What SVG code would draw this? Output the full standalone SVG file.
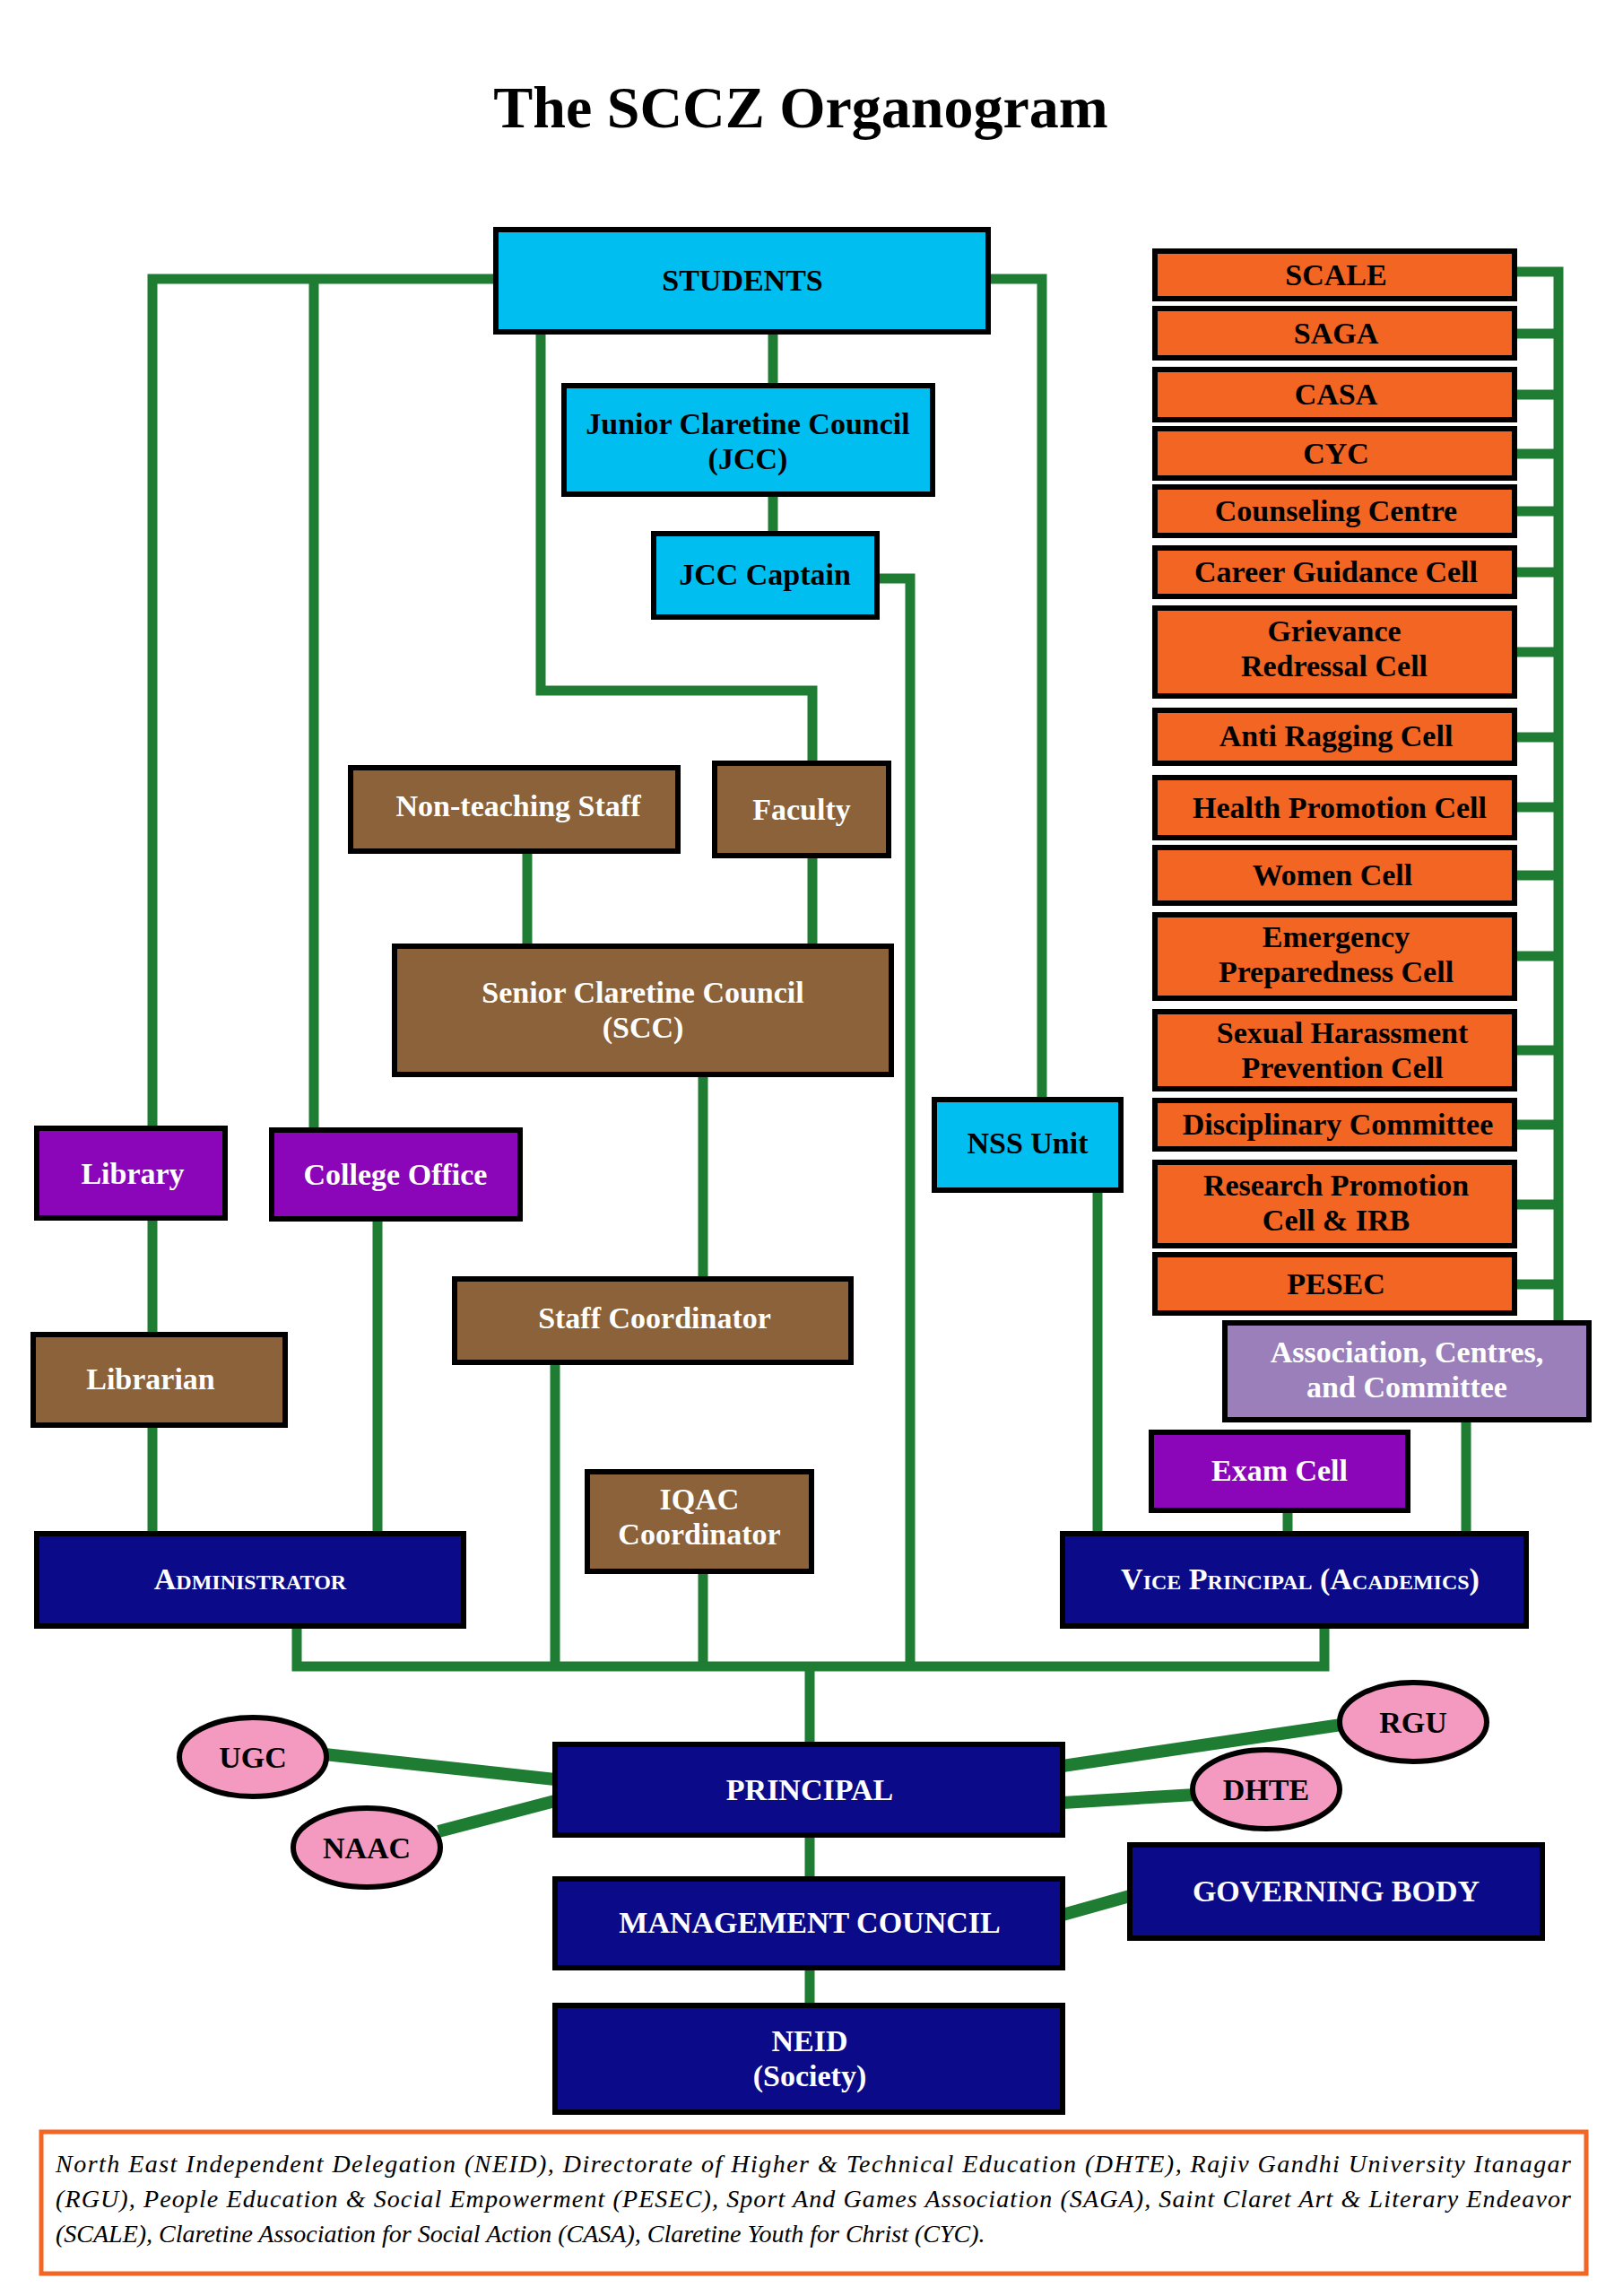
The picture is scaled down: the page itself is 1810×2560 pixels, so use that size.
<svg xmlns="http://www.w3.org/2000/svg" width="1810" height="2560" viewBox="0 0 1810 2560">
<style>
.b{stroke:#000;stroke-width:6}
.t{font-family:"Liberation Serif",serif;font-weight:bold;font-size:34px;text-anchor:middle}
.w{fill:#fff}.k{fill:#000}
.blue{fill:#00bff0}.brown{fill:#8b6239}.purple{fill:#8a06b8}.orange{fill:#f26522}.lav{fill:#9b7fba}.navy{fill:#0b0b8a}.pink{fill:#f49ac1}
.c{stroke:#1e7d32;stroke-width:11;fill:none}
.sc{font-variant:small-caps}
</style>
<rect width="1810" height="2560" fill="#fff"/>
<text x="893" y="142" class="t k" style="font-size:66px">The SCCZ Organogram</text>
<g id="connectors" class="c">
<polyline points="553,311 170,311 170,1258"/>
<line x1="350" y1="311" x2="350" y2="1260"/>
<line x1="170" y1="1358" x2="170" y2="1488"/>
<line x1="170" y1="1589" x2="170" y2="1710"/>
<line x1="421" y1="1359" x2="421" y2="1710"/>
<polyline points="1102,311 1162,311 1162,1226"/>
<line x1="862" y1="370" x2="862" y2="430"/>
<line x1="862" y1="551" x2="862" y2="595"/>
<polyline points="978,645 1015,645 1015,1858"/>
<polyline points="603,370 603,770 906,770 906,851"/>
<line x1="588" y1="949" x2="588" y2="1055"/>
<line x1="906" y1="954" x2="906" y2="1055"/>
<line x1="784" y1="1198" x2="784" y2="1426"/>
<line x1="619" y1="1519" x2="619" y2="1858"/>
<line x1="784" y1="1752" x2="784" y2="1858"/>
<polyline points="331,1813 331,1858 1477,1858 1477,1813"/>
<line x1="1224" y1="1327" x2="1224" y2="1710"/>
<line x1="1436" y1="1684" x2="1436" y2="1710"/>
<line x1="1635" y1="1583" x2="1635" y2="1710"/>
<line x1="903" y1="1858" x2="903" y2="1945"/>
<line x1="903" y1="2046" x2="903" y2="2095"/>
<line x1="903" y1="2194" x2="903" y2="2236"/>
<line x1="362" y1="1956" x2="619" y2="1984" style="stroke-width:14"/>
<line x1="489" y1="2042" x2="619" y2="2008" style="stroke-width:14"/>
<line x1="1185" y1="1969" x2="1496" y2="1923" style="stroke-width:14"/>
<line x1="1185" y1="2010" x2="1333" y2="2001" style="stroke-width:14"/>
<line x1="1185" y1="2135" x2="1260" y2="2114" style="stroke-width:14"/>
<polyline points="1689,303 1738,303 1738,1472"/>
<path d="M1689,372H1738M1689,440H1738M1689,506H1738M1689,570H1738M1689,638H1738M1689,727H1738M1689,822H1738M1689,900H1738M1689,976H1738M1689,1066H1738M1689,1171H1738M1689,1254H1738M1689,1343H1738M1689,1432H1738"/>
</g>
<g id="students"><rect x="553" y="256" width="549" height="114" class="b blue"/><text x="828" y="324" class="t k">STUDENTS</text></g>
<g id="jcc"><rect x="629" y="430" width="411" height="121" class="b blue"/><text x="834" y="484" class="t k">Junior Claretine Council</text><text x="834" y="523" class="t k">(JCC)</text></g>
<g id="jcc-captain"><rect x="729" y="595" width="249" height="93" class="b blue"/><text x="853" y="652" class="t k">JCC Captain</text></g>
<g id="faculty"><rect x="797" y="851" width="194" height="103" class="b brown"/><text x="894" y="914" class="t w">Faculty</text></g>
<g id="non-teaching"><rect x="391" y="856" width="365" height="93" class="b brown"/><text x="578" y="910" class="t w">Non-teaching Staff</text></g>
<g id="scc"><rect x="440" y="1055" width="554" height="143" class="b brown"/><text x="717" y="1118" class="t w">Senior Claretine Council</text><text x="717" y="1157" class="t w">(SCC)</text></g>
<g id="library"><rect x="41" y="1258" width="210" height="100" class="b purple"/><text x="148" y="1320" class="t w">Library</text></g>
<g id="college-office"><rect x="303" y="1260" width="277" height="99" class="b purple"/><text x="441" y="1321" class="t w">College Office</text></g>
<g id="librarian"><rect x="37" y="1488" width="281" height="101" class="b brown"/><text x="168" y="1549" class="t w">Librarian</text></g>
<g id="staff-coordinator"><rect x="507" y="1426" width="442" height="93" class="b brown"/><text x="730" y="1481" class="t w">Staff Coordinator</text></g>
<g id="iqac"><rect x="655" y="1641" width="250" height="111" class="b brown"/><text x="780" y="1683" class="t w">IQAC</text><text x="780" y="1722" class="t w">Coordinator</text></g>
<g id="administrator"><rect x="41" y="1710" width="476" height="103" class="b navy"/><text x="279" y="1772" class="t w sc">Administrator</text></g>
<g id="nss"><rect x="1042" y="1226" width="208" height="101" class="b blue"/><text x="1146" y="1286" class="t k">NSS Unit</text></g>
<g id="vice-principal"><rect x="1185" y="1710" width="517" height="103" class="b navy"/><text x="1450" y="1772" class="t w sc">Vice Principal (Academics)</text></g>
<g id="exam-cell"><rect x="1284" y="1597" width="286" height="87" class="b purple"/><text x="1427" y="1651" class="t w">Exam Cell</text></g>
<g id="association"><rect x="1366" y="1475" width="406" height="108" class="b lav"/><text x="1569" y="1519" class="t w">Association, Centres,</text><text x="1569" y="1558" class="t w">and Committee</text></g>
<g id="scale"><rect x="1288" y="280" width="401" height="53" class="b orange"/><text x="1490" y="318" class="t k">SCALE</text></g>
<g id="saga"><rect x="1288" y="344" width="401" height="55" class="b orange"/><text x="1490" y="383" class="t k">SAGA</text></g>
<g id="casa"><rect x="1288" y="412" width="401" height="56" class="b orange"/><text x="1490" y="451" class="t k">CASA</text></g>
<g id="cyc"><rect x="1288" y="478" width="401" height="55" class="b orange"/><text x="1490" y="517" class="t k">CYC</text></g>
<g id="counseling"><rect x="1288" y="543" width="401" height="54" class="b orange"/><text x="1490" y="581" class="t k">Counseling Centre</text></g>
<g id="career"><rect x="1288" y="611" width="401" height="54" class="b orange"/><text x="1490" y="649" class="t k">Career Guidance Cell</text></g>
<g id="grievance"><rect x="1288" y="678" width="401" height="98" class="b orange"/><text x="1488" y="715" class="t k">Grievance</text><text x="1488" y="754" class="t k">Redressal Cell</text></g>
<g id="anti-ragging"><rect x="1288" y="792" width="401" height="59" class="b orange"/><text x="1490" y="832" class="t k">Anti Ragging Cell</text></g>
<g id="health"><rect x="1288" y="867" width="401" height="67" class="b orange"/><text x="1494" y="912" class="t k">Health Promotion Cell</text></g>
<g id="women"><rect x="1288" y="945" width="401" height="62" class="b orange"/><text x="1486" y="987" class="t k">Women Cell</text></g>
<g id="emergency"><rect x="1288" y="1020" width="401" height="93" class="b orange"/><text x="1490" y="1056" class="t k">Emergency</text><text x="1490" y="1095" class="t k">Preparedness Cell</text></g>
<g id="sexual"><rect x="1288" y="1128" width="401" height="86" class="b orange"/><text x="1497" y="1163" class="t k">Sexual Harassment</text><text x="1497" y="1202" class="t k">Prevention Cell</text></g>
<g id="disciplinary"><rect x="1288" y="1227" width="401" height="54" class="b orange"/><text x="1492" y="1265" class="t k">Disciplinary Committee</text></g>
<g id="research"><rect x="1288" y="1296" width="401" height="93" class="b orange"/><text x="1490" y="1333" class="t k">Research Promotion</text><text x="1490" y="1372" class="t k">Cell &amp; IRB</text></g>
<g id="pesec"><rect x="1288" y="1399" width="401" height="65" class="b orange"/><text x="1490" y="1443" class="t k">PESEC</text></g>
<g id="principal"><rect x="619" y="1945" width="566" height="101" class="b navy"/><text x="903" y="2007" class="t w">PRINCIPAL</text></g>
<g id="management"><rect x="619" y="2095" width="566" height="99" class="b navy"/><text x="903" y="2155" class="t w">MANAGEMENT COUNCIL</text></g>
<g id="neid"><rect x="619" y="2236" width="566" height="119" class="b navy"/><text x="903" y="2287" class="t w">NEID</text><text x="903" y="2326" class="t w">(Society)</text></g>
<g id="governing"><rect x="1260" y="2057" width="460" height="104" class="b navy"/><text x="1490" y="2120" class="t w">GOVERNING BODY</text></g>
<g id="ugc"><ellipse cx="282" cy="1959" rx="82" ry="44" class="b pink"/><text x="282" y="1971" class="t k">UGC</text></g>
<g id="naac"><ellipse cx="409" cy="2060" rx="82" ry="44" class="b pink"/><text x="409" y="2072" class="t k">NAAC</text></g>
<g id="rgu"><ellipse cx="1576" cy="1920" rx="82" ry="44" class="b pink"/><text x="1576" y="1932" class="t k">RGU</text></g>
<g id="dhte"><ellipse cx="1412" cy="1995" rx="82" ry="44" class="b pink"/><text x="1412" y="2007" class="t k">DHTE</text></g>
<g id="footer"><rect x="46" y="2377" width="1723" height="158" fill="#fff" stroke="#f26522" stroke-width="5"/>
<g style="font-family:'Liberation Serif',serif;font-style:italic;font-size:28px" fill="#000">
<text x="62" y="2422" textLength="1690" lengthAdjust="spacing">North East Independent Delegation (NEID), Directorate of Higher &amp; Technical Education (DHTE), Rajiv Gandhi University Itanagar</text>
<text x="62" y="2461" textLength="1690" lengthAdjust="spacing">(RGU), People Education &amp; Social Empowerment (PESEC), Sport And Games Association (SAGA), Saint Claret Art &amp; Literary Endeavor</text>
<text x="62" y="2500">(SCALE), Claretine Association for Social Action (CASA), Claretine Youth for Christ (CYC).</text>
</g></g>
</svg>
